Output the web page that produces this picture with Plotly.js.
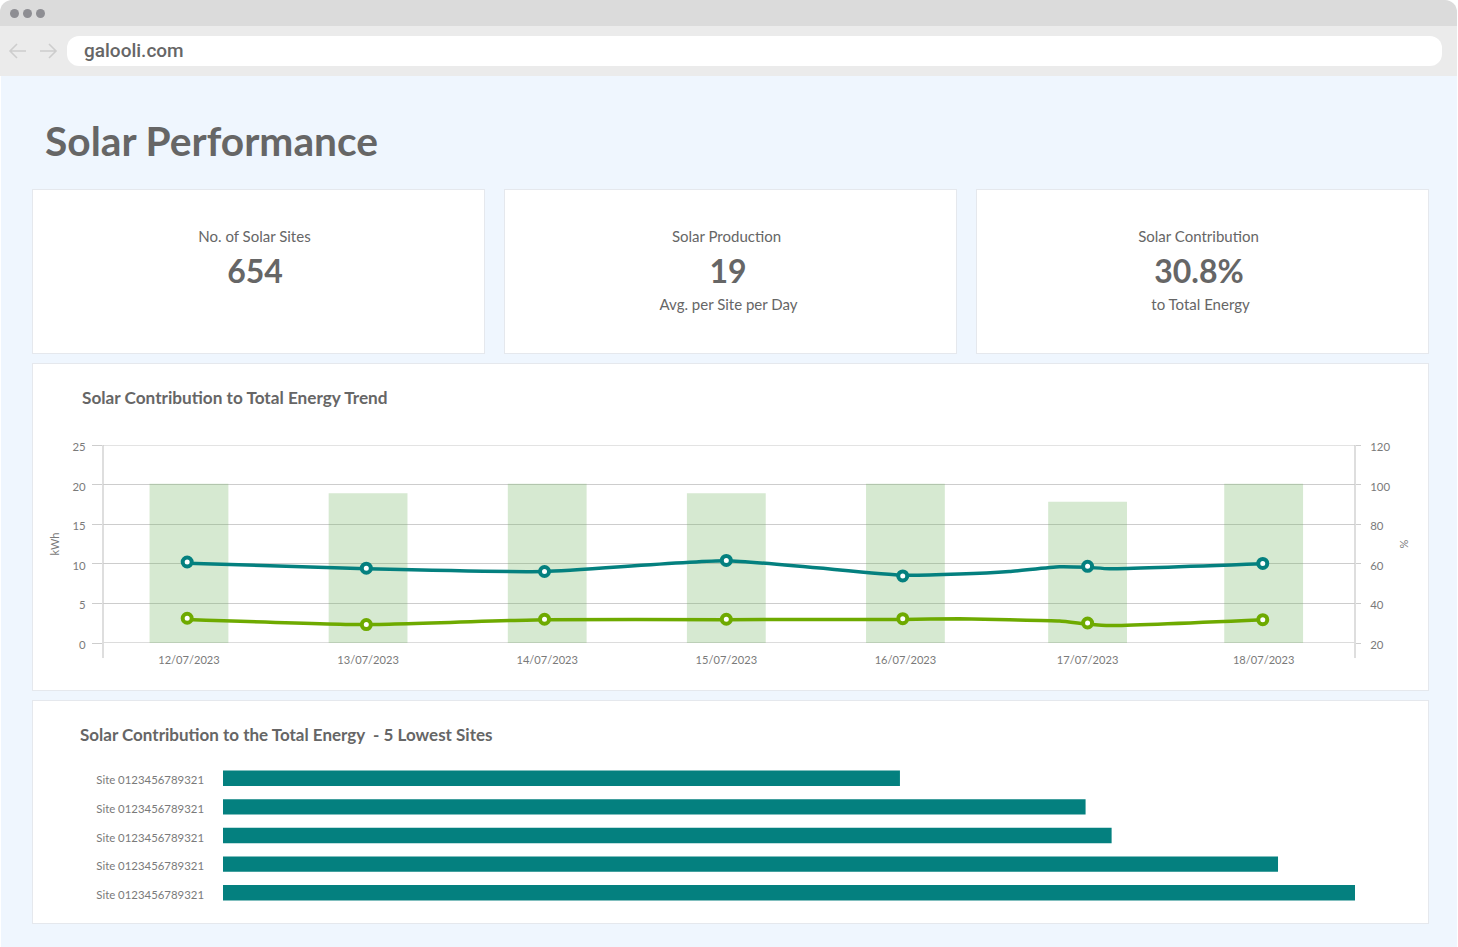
<!DOCTYPE html>
<html>
<head>
<meta charset="utf-8">
<script src="https://cdn.plot.ly/plotly-3.0.1.min.js"></script>
<style>
html,body{margin:0;padding:0;background:#fff;width:1458px;height:947px;overflow:hidden;font-family:Lato,sans-serif}
.abs{position:absolute}
#tab{left:0;top:0;width:1457px;height:26px;background:#dbdbdb;border-radius:12px 12px 0 0}
#bar{left:0;top:26px;width:1457px;height:50px;background:#ebebeb}
#url{left:67px;top:36px;width:1375px;height:30px;background:#fff;border-radius:12px;font:500 19px Roboto,sans-serif;color:#666;line-height:30px;text-indent:17px}
.dot{width:9px;height:9px;border-radius:50%;background:#8e8e93;top:8.5px}
#page{left:1px;top:76px;width:1456px;height:871px;background:#eff6fe}
#h{left:45px;top:116px;font-size:40.7px;font-weight:700;color:#666;line-height:50px;white-space:nowrap}
.card{background:#fff;border:1px solid #e5e8ed;box-sizing:border-box}
.t{position:absolute;transform:translateX(-50%);white-space:nowrap;color:#666;text-align:center}
.l{font-size:15px;line-height:20px}
.v{font-size:32px;font-weight:700;line-height:40px}
</style>
</head>
<body>
<div class="abs" id="tab"></div><div class="abs" id="bar"></div>
<div class="abs dot" style="left:9.5px"></div><div class="abs dot" style="left:22.5px"></div><div class="abs dot" style="left:35.5px"></div>
<svg class="abs" style="left:8px;top:42px" width="52" height="18" fill="none" stroke="#cdcdcd" stroke-width="1.6">
<path d="M18 9H2M9 2L2 9L9 16"/><path d="M32 9H48M41 2L48 9L41 16"/></svg>
<div class="abs" id="url">galooli.com</div>
<div class="abs" id="page"></div>
<div class="abs" id="h">Solar Performance</div>

<div class="abs card" style="left:32px;top:189px;width:453px;height:165px"></div>
<div class="abs card" style="left:504px;top:189px;width:453px;height:165px"></div>
<div class="abs card" style="left:976px;top:189px;width:453px;height:165px"></div>
<div class="t l" style="left:254.5px;top:225.5px">No. of Solar Sites</div>
<div class="t v" style="left:255px;top:251px">654</div>
<div class="t l" style="left:726.5px;top:225.5px">Solar Production</div>
<div class="t v" style="left:728px;top:251px">19</div>
<div class="t l" style="left:728.5px;top:293.5px">Avg. per Site per Day</div>
<div class="t l" style="left:1198.5px;top:225.5px">Solar Contribution</div>
<div class="t v" style="left:1199px;top:251px">30.8%</div>
<div class="t l" style="left:1200.5px;top:293.5px">to Total Energy</div>

<div class="abs card" style="left:32px;top:363px;width:1397px;height:328px"></div>
<div class="abs card" style="left:32px;top:700px;width:1397px;height:224px"></div>
<div class="abs" id="trend" style="left:33px;top:364px;width:1395px;height:325px"></div>
<div class="abs" id="lowest" style="left:33px;top:701px;width:1395px;height:222px"></div>

<script>
const dates = ['12/07/2023','13/07/2023','14/07/2023','15/07/2023','16/07/2023','17/07/2023','18/07/2023'];
const datePos = [0,1,2,3,4,5.017,6];
const production = [20.1,18.9,20.1,18.9,20.1,17.85,20.1];
const markerPos = [-0.01,0.99,1.985,3,3.985,5.017,5.995];
const tealMarkers = [60.9,57.8,56.1,61.7,53.9,58.7,60.2];
const greenMarkers = [32.5,29.3,32,32,32.3,30.1,31.8];
const lineX = [-0.01,0.99,1.985,3,3.985,4.3,4.58,4.86,5.017,5.14,5.995];
const tealLine = [60.3,57.5,56.1,61.5,54.2,54.8,56.1,58.5,58.2,57.5,60];
const greenLine = [31.9,29.3,31.8,31.8,31.9,32.2,31.7,31.1,29.6,28.8,31.8];
const sitePos = [1,2,3,4,5];
const siteLabels = ['Site 0123456789321','Site 0123456789321','Site 0123456789321','Site 0123456789321','Site 0123456789321'];
const siteValues = [59.8,76.2,78.5,93.2,100];

const TEAL='#04807f', GREEN='#6eaa00', GREY='#7a7a7a', GRID='#cdcdcd', AXIS='#bdbdbd';
const xFont={family:'Lato',size:11.1,color:GREY};
const yFont={family:'Lato',size:11.4,color:GREY};
const config={displayModeBar:false,staticPlot:true};

function lineTrace(y,c){return {type:'scatter',mode:'lines',x:lineX,y:y,yaxis:'y2',line:{color:c,width:3.5,shape:'spline',smoothing:0.5},hoverinfo:'skip'};}
function markTrace(y,c){return {type:'scatter',mode:'markers',x:markerPos,y:y,yaxis:'y2',marker:{size:9,color:'#fff',line:{color:c,width:4}}};}

Plotly.newPlot('trend',[
  {type:'bar',x:datePos,y:production,width:0.44,marker:{color:'rgba(108,176,90,0.28)'}},
  lineTrace(tealLine,TEAL),lineTrace(greenLine,GREEN),markTrace(tealMarkers,TEAL),markTrace(greenMarkers,GREEN)
],{
  width:1395,height:325,showlegend:false,
  paper_bgcolor:'rgba(0,0,0,0)',plot_bgcolor:'rgba(0,0,0,0)',
  margin:{l:70,r:73,t:81,b:46,pad:0},
  title:{text:'Solar Contribution to Total Energy Trend',font:{family:'Lato',size:17.2,color:'#666',weight:700},x:49/1395,xref:'container',xanchor:'left',y:1-34/325,yanchor:'middle'},
  xaxis:{range:[-0.48,6.51],tickmode:'array',tickvals:datePos,ticktext:dates,tickfont:xFont,showgrid:false,zeroline:false,showline:false,ticks:'',ticklabelstandoff:9},
  yaxis:{range:[0,25],tickvals:[0,5,10,15,20,25],tickfont:yFont,gridcolor:GRID,gridwidth:1.3,zeroline:false,showline:false,ticks:'outside',ticklen:10,tickcolor:GRID,
    ticklabelstandoff:4,ticklabelshift:2,title:{text:'kWh',font:{family:'Lato',size:11,color:GREY},standoff:10}},
  yaxis2:{range:[20,120],overlaying:'y',side:'right',tickvals:[20,40,60,80,100,120],tickfont:yFont,showgrid:false,zeroline:false,showline:false,ticks:'outside',ticklen:5,tickcolor:GRID,
    ticklabelstandoff:7,ticklabelshift:2,title:{text:'%',font:{family:'Lato',size:11,color:GREY},standoff:10}},
  shapes:[
    {type:'line',xref:'paper',yref:'paper',x0:0,x1:0,y0:-0.076,y1:1,line:{color:AXIS,width:1},layer:'below'},
    {type:'line',xref:'paper',yref:'paper',x0:1,x1:1,y0:-0.076,y1:1,line:{color:AXIS,width:1},layer:'below'},
    {type:'line',xref:'paper',yref:'y',x0:0,x1:1,y0:25,y1:25,line:{color:'#c8c8c8',width:1},layer:'below'},
    {type:'line',xref:'paper',yref:'y',x0:0,x1:1,y0:0,y1:0,line:{color:'#dcdcdc',width:2},layer:'below'}
  ]
},config);

Plotly.newPlot('lowest',[
  {type:'bar',orientation:'h',x:siteValues,y:sitePos,marker:{color:TEAL}}
],{
  width:1395,height:222,showlegend:false,bargap:0.46,
  paper_bgcolor:'rgba(0,0,0,0)',plot_bgcolor:'rgba(0,0,0,0)',
  margin:{l:190,r:73,t:63,b:16,pad:0},
  title:{text:'Solar Contribution to the Total Energy  - 5 Lowest Sites',font:{family:'Lato',size:17,color:'#666',weight:700},x:47/1395,xref:'container',xanchor:'left',y:1-34.5/222,yanchor:'middle'},
  xaxis:{range:[0,100],visible:false},
  yaxis:{range:[5.5,0.5],tickmode:'array',tickvals:sitePos,ticktext:siteLabels,tickfont:{family:'Lato',size:11.4,color:GREY},showgrid:false,zeroline:false,showline:false,ticks:'',ticklabelstandoff:18,ticklabelshift:-2}
},config);
</script>
</body>
</html>
